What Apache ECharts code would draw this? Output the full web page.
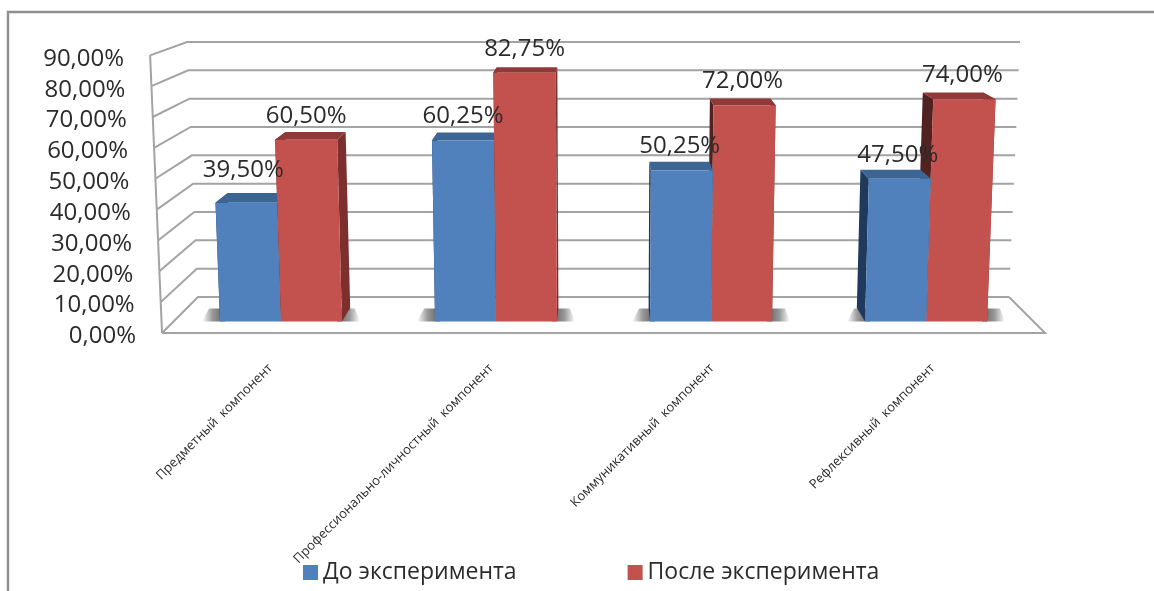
<!DOCTYPE html>
<html><head><meta charset="utf-8">
<style>html,body{margin:0;padding:0;background:#fff}#c{width:1154px;height:591px}</style>
<script src="https://cdn.jsdelivr.net/npm/echarts@6/dist/echarts.min.js"></script>
</head><body><div id="c"></div>
<script>
const categories = ['Предметный  компонент','Профессионально-личностный  компонент','Коммуникативный  компонент','Рефлексивный  компонент'];
const seriesNames = ['До эксперимента','После эксперимента'];
const before = [39.5, 60.25, 50.25, 47.5];
const after = [60.5, 82.75, 72, 74];
const yTicks = [0,10,20,30,40,50,60,70,80,90];

const FONT = '"Open Sans", sans-serif';
const TXT = '#2b2b2b', WALL = '#a3a3a3';
const S_WALL = 1.0888, S_FRONT = 1.0605, S_BACK = 1.027, CX = 603, VY = -108;
const BAR = 0.2835;
function P(x, y, s){ const k = 1 + 0.000106*(297-y); return [CX+(x-CX)*s*k, VY+(y+108)*s]; }
const fmt = v => v.toFixed(2).replace('.', ',') + '%';

const palette = [
  {front:'#5081bd', top:'#3d6594', left:'#1f3a5c', right:'#3a5f8c'},
  {front:'#c3524f', top:'#8f3a38', left:'#512220', right:'#7d2f2d'}
];

function poly(points, fill, z2){ return {type:'polygon', shape:{points}, style:{fill, stroke:null}, z2, silent:true}; }
function labelNudge(si, i){
  if(si===0 && i===0) return [-3,-6];
  return [i>=2 ? -2 : 0, 3];
}

function barRender(si){
  return function(params, api){
    const i = api.value(0), v = api.value(1);
    const c = api.coord([i, v]), b = api.coord([i, 0]);
    const band = api.size([1,0])[0], w = band*BAR;
    const x0 = si===0 ? c[0]-w : c[0], x1 = si===0 ? c[0] : c[0]+w;
    const yt = c[1], yb = b[1], col = palette[si];
    const base = (i<2) === (si===0) ? 10 : 20;
    const fbl=P(x0,yb,S_FRONT), fbr=P(x1,yb,S_FRONT), ftl=P(x0,yt,S_FRONT), ftr=P(x1,yt,S_FRONT);
    const bbl=P(x0,yb,S_BACK), bbr=P(x1,yb,S_BACK), btl=P(x0,yt,S_BACK), btr=P(x1,yt,S_BACK);
    const kids = [
      poly([bbl,fbl,ftl,btl], col.left, base),
      poly([bbr,fbr,ftr,btr], col.right, base),
      poly([ftl,ftr,btr,btl], col.top, base+1),
      poly([fbl,fbr,ftr,ftl], col.front, base+2)
    ];
    // floor shadow beside the bar
    if(si===0){
      kids.unshift(poly([[fbl[0]-18,fbl[1]],[fbl[0]+5,fbl[1]],[fbl[0]+5,fbl[1]-13],[fbl[0]-11,fbl[1]-13]],
        {type:'linear',x:0,y:0,x2:1,y2:0,colorStops:[{offset:0,color:'rgba(100,100,100,0)'},{offset:0.45,color:'rgba(100,100,100,0.65)'},{offset:0.8,color:'rgba(100,100,100,0.9)'},{offset:1,color:'rgba(100,100,100,0.9)'}]}, 2));
    } else {
      kids.unshift(poly([[fbr[0]-5,fbr[1]],[fbr[0]+18,fbr[1]],[fbr[0]+13,fbr[1]-13],[fbr[0]-5,fbr[1]-13]],
        {type:'linear',x:0,y:0,x2:1,y2:0,colorStops:[{offset:0,color:'rgba(100,100,100,0.9)'},{offset:0.2,color:'rgba(100,100,100,0.9)'},{offset:0.55,color:'rgba(100,100,100,0.65)'},{offset:1,color:'rgba(100,100,100,0)'}]}, 2));
    }
    const n = labelNudge(si,i);
    kids.push({type:'text', x:(ftl[0]+ftr[0])/2+n[0], y:ftl[1]-27+n[1], z2:100, silent:true,
      style:{text:fmt(v), fill:TXT, font:'24px '+FONT, textAlign:'center', textVerticalAlign:'middle'}});
    return {type:'group', children:kids};
  };
}

function wallRender(params, api){
  const v = api.value(0);
  const L = api.coord([0,v])[0] - api.size([1,0])[0]/2, R = L + api.size([1,0])[0]*categories.length;
  const y = api.coord([0,v])[1];
  const lb = P(L,y,1), lf = P(L,y,S_WALL), rb = P(R,y,1), rf = P(R,y,S_WALL);
  const ls = {stroke:WALL, lineWidth:2, fill:null};
  const pl = (points)=>({type:'polyline', shape:{points}, style:ls, z2:1, silent:true});
  const kids = [ pl([lf,lb,rb]) ];
  if(v===0){ kids.push(pl([rb,rf,lf])); }
  if(v<90){ const up = api.coord([0,v+10])[1]; kids.push(pl([lf,P(L,up,S_WALL)])); }
  kids.push({type:'text', x:lf[0]-26, y:lf[1]+3.5, z2:50, silent:true,
    style:{text:fmt(v), fill:TXT, font:'24px '+FONT, textAlign:'right', textVerticalAlign:'middle'}});
  return {type:'group', children:kids};
}

function catRender(params, api){
  const c = api.coord([api.value(0),0]);
  const p = P(c[0],c[1],S_WALL);
  return {type:'text', x:p[0]-2, y:366, rotation:Math.PI/4, z2:50, silent:true,
    style:{text:categories[params.dataIndex], fill:TXT, font:'13px '+FONT, textAlign:'right', textVerticalAlign:'middle'}};
}

const chart = echarts.init(document.getElementById('c'), null, {renderer:'canvas'});
chart.setOption({
  animation:false,
  backgroundColor:'#fff',
  graphic:[{type:'polyline', silent:true, shape:{points:[[8,591],[8,12],[1154,12]]}, style:{stroke:'#8f8f8f', lineWidth:2.4, fill:null}}],
  grid:{left:198, width:811, top:42, height:255},
  xAxis:{type:'category', data:categories, show:false},
  yAxis:{type:'value', min:0, max:90, interval:10, show:false},
  legend:{data:seriesNames, left:298, top:556, icon:'rect', itemWidth:15, itemHeight:15, itemGap:111,
    textStyle:{fontFamily:FONT, fontSize:23, color:TXT}, selectedMode:false},
  series:[
    {type:'custom', name:'walls', data:yTicks.map(v=>[v]), encode:{y:0}, renderItem:wallRender, clip:false, silent:true},
    {type:'custom', name:'categories', data:categories.map((c,i)=>[i]), encode:{x:0}, renderItem:catRender, clip:false, silent:true},
    {type:'custom', name:seriesNames[0], data:before.map((v,i)=>[i,v]), encode:{x:0,y:1}, renderItem:barRender(0), clip:false, itemStyle:{color:palette[0].front}},
    {type:'custom', name:seriesNames[1], data:after.map((v,i)=>[i,v]), encode:{x:0,y:1}, renderItem:barRender(1), clip:false, itemStyle:{color:palette[1].front}}
  ]
});
</script></body></html>
